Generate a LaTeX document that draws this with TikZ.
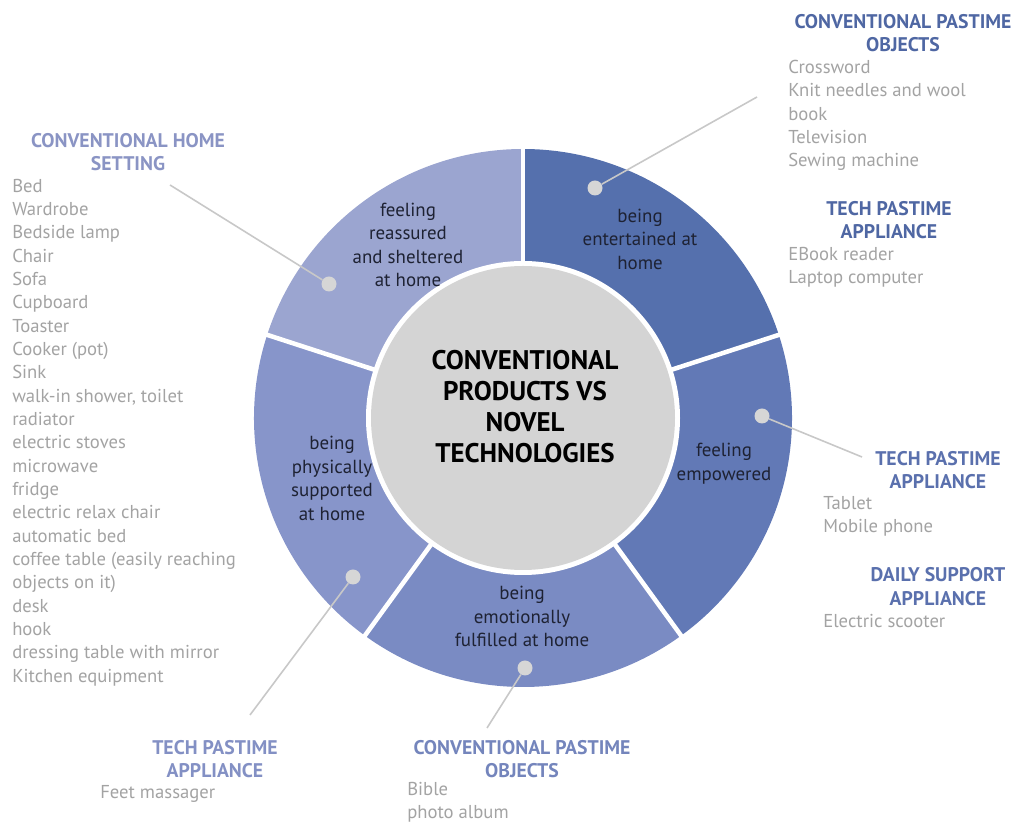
\documentclass[tikz,border=0pt]{standalone}
\usepackage{fontspec}
\setmainfont{PT Sans}
\usetikzlibrary{calc}
\definecolor{secA}{HTML}{9BA5D0}
\definecolor{secB}{HTML}{5570AD}
\definecolor{secC}{HTML}{6279B6}
\definecolor{secD}{HTML}{7A8BC3}
\definecolor{secE}{HTML}{8795CA}
\definecolor{hA}{HTML}{8A94C4}
\definecolor{hB}{HTML}{4F67A3}
\definecolor{hC}{HTML}{5A70AD}
\definecolor{hD}{HTML}{7485BC}
\definecolor{hE}{HTML}{8390C4}
\definecolor{centergray}{HTML}{D4D4D4}
\definecolor{itemgray}{HTML}{A3A3A3}
\definecolor{secdark}{HTML}{1E2233}
\definecolor{dotgray}{HTML}{D6D6D6}
\definecolor{conngray}{HTML}{C8C8C8}
\begin{document}
\begin{tikzpicture}[x=0.75pt,y=0.75pt,
  itemtxt/.style={font=\fontsize{14}{17.5}\selectfont, text=itemgray, align=left, inner sep=0pt},
  headtxt/.style={font=\bfseries\fontsize{14.8}{17.4}\selectfont, align=center, inner sep=0pt},
  sectxt/.style={font=\fontsize{14.2}{17.6}\selectfont, text=secdark, align=center, inner sep=0pt},
  centertxt/.style={font=\bfseries\fontsize{20.2}{23.3}\selectfont, text=black, align=center, inner sep=0pt},
  dot/.style={circle, fill=dotgray, minimum size=15pt*0.75, inner sep=0pt},
  conn/.style={draw=conngray, line width=1.2pt},
  divider/.style={white, line width=3.4pt}]
\useasboundingbox (0,0) rectangle (1015,825);
\coordinate (C) at (523,407);
% sectors
\foreach \a/\b/\c in {90/162/secA, 18/90/secB, -54/18/secC, -126/-54/secD, 162/234/secE}{
  \fill[\c] ($(C)+(\a:269)$) arc[start angle=\a, end angle=\b, radius=269]
    -- ($(C)+(\b:150)$) arc[start angle=\b, end angle=\a, radius=150] -- cycle;
}
\foreach \a in {90,18,-54,-126,162}{
  \draw[divider] ($(C)+(\a:148)$) -- ($(C)+(\a:275)$);
}
\fill[white] (C) circle[radius=157];
\node[circle, fill=centergray, minimum size=304*0.75pt, inner sep=0pt] (core) at (C) {};
\node[centertxt] (ctext) at (525,418.5) {CONVENTIONAL\\PRODUCTS VS\\NOVEL\\TECHNOLOGIES};
% sector labels
\node[sectxt] (sA) at (408,580) {feeling\\reassured\\and sheltered\\at home};
\node[sectxt] (sB) at (640,586) {being\\entertained at\\home};
\node[sectxt] (sC) at (724,361.5) {feeling\\empowered};
\node[sectxt] (sE) at (332,346.5) {being\\physically\\supported\\at home};
\node[sectxt] (sD) at (522,208.5) {being\\emotionally\\fulfilled at home};
% dots
\node[dot] (dB) at (595,637) {};
\node[dot] (dA) at (329,541) {};
\node[dot] (dC) at (762,409) {};
\node[dot] (dE) at (353,248) {};
\node[dot] (dD) at (525,157) {};
% connector free ends
\coordinate (eB) at (757,728);
\coordinate (eA) at (170,640);
\coordinate (eC) at (862,368);
\coordinate (eE) at (250,110);
\coordinate (eD) at (487,97);
\draw[conn] (dB) -- (eB);
\draw[conn] (dA) -- (eA);
\draw[conn] (dC) -- (eC);
\draw[conn] (dE) -- (eE);
\draw[conn] (dD) -- (eD);
% text blocks
\node[headtxt, text=hB] (h1) at (903,791.5) {CONVENTIONAL PASTIME\\OBJECTS};
\node[itemtxt, anchor=west] (i1) at (788,709.5) {Crossword\\Knit needles and wool\\book\\Television\\Sewing machine};
\node[headtxt, text=hB] (h2) at (889,604.5) {TECH PASTIME\\APPLIANCE};
\node[itemtxt, anchor=west] (i2) at (788,557.5) {EBook reader\\Laptop computer};
\node[headtxt, text=hC] (h3) at (938,355) {TECH PASTIME\\APPLIANCE};
\node[itemtxt, anchor=west] (i3) at (823,308.5) {Tablet\\Mobile phone};
\node[headtxt, text=hC] (h4) at (938,238.5) {DAILY SUPPORT\\APPLIANCE};
\node[itemtxt, anchor=west] (i4) at (823,204) {Electric scooter};
\node[headtxt, text=hA] (h5) at (128,672.5) {CONVENTIONAL HOME\\SETTING};
\node[itemtxt, anchor=west] (i5) at (12,392.5) {Bed\\Wardrobe\\Bedside lamp\\Chair\\Sofa\\Cupboard\\Toaster\\Cooker (pot)\\Sink\\walk-in shower, toilet\\radiator\\electric stoves\\microwave\\fridge\\electric relax chair\\automatic bed\\coffee table (easily reaching\\objects on it)\\desk\\hook\\dressing table with mirror\\Kitchen equipment};
\node[headtxt, text=hE] (h6) at (215,66) {TECH PASTIME\\APPLIANCE};
\node[itemtxt, anchor=west] (i6) at (100,31) {Feet massager};
\node[headtxt, text=hD] (h7) at (522,66) {CONVENTIONAL PASTIME\\OBJECTS};
\node[itemtxt, anchor=west] (i7) at (407,22.5) {Bible\\photo album};
\end{tikzpicture}
\end{document}
